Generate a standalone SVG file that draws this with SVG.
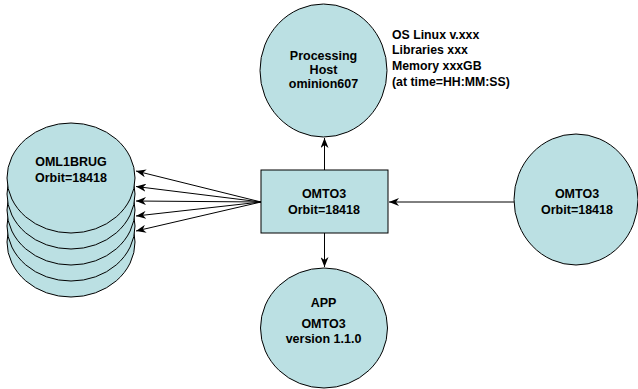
<svg xmlns="http://www.w3.org/2000/svg" width="638" height="389" viewBox="0 0 638 389">
<defs>
<marker id="ah" viewBox="0 0 10 8" refX="10" refY="4" markerWidth="10" markerHeight="8" markerUnits="userSpaceOnUse" orient="auto">
<path d="M0,0 L10,4 L0,8 L3,4 Z" fill="#000"/>
</marker>
</defs>
<style>
.n{fill:#bbe0e3;stroke:#000;stroke-width:1}
.t{font-family:"Liberation Sans",Arial,Helvetica,sans-serif;font-weight:bold;font-size:12.5px;fill:#000;text-anchor:middle}
.i{font-family:"Liberation Sans",Arial,Helvetica,sans-serif;font-weight:bold;font-size:12.3px;fill:#000}
.c{fill:none;stroke:#000;stroke-width:1;marker-end:url(#ah)}
</style>
<rect width="638" height="389" fill="#fff"/>
<g id="stack">
<ellipse class="n" cx="71" cy="242" rx="64" ry="55"/>
<ellipse class="n" cx="71" cy="226" rx="64" ry="55"/>
<ellipse class="n" cx="71" cy="210" rx="64" ry="55"/>
<ellipse class="n" cx="71" cy="194" rx="64" ry="55"/>
<ellipse class="n" cx="71" cy="178" rx="64" ry="55"/>
<text class="t" x="71" y="166">OML1BRUG</text>
<text class="t" x="71" y="182">Orbit=18418</text>
</g>
<g id="host">
<ellipse class="n" cx="323.5" cy="70.5" rx="63.5" ry="66.5"/>
<text class="t" x="323.5" y="60">Processing</text>
<text class="t" x="323.5" y="74">Host</text>
<text class="t" x="323.5" y="88">ominion607</text>
</g>
<g id="info">
<text class="i" x="392" y="39">OS Linux v.xxx</text>
<text class="i" x="392" y="54">Libraries xxx</text>
<text class="i" x="392" y="70">Memory xxxGB</text>
<text class="i" x="392" y="86">(at time=HH:MM:SS)</text>
</g>
<g id="omto3box">
<rect class="n" x="261" y="170" width="127" height="63"/>
<text class="t" x="324" y="198">OMTO3</text>
<text class="t" x="324" y="214">Orbit=18418</text>
</g>
<g id="omto3in">
<ellipse class="n" cx="576" cy="199.5" rx="62" ry="65.5"/>
<text class="t" x="577" y="198">OMTO3</text>
<text class="t" x="577" y="214">Orbit=18418</text>
</g>
<g id="app">
<ellipse class="n" cx="324" cy="328" rx="63.5" ry="60"/>
<text class="t" x="323.5" y="307">APP</text>
<text class="t" x="323.5" y="328">OMTO3</text>
<text class="t" x="323.5" y="343">version 1.1.0</text>
</g>
<g id="connectors">
<line class="c" x1="261" y1="202" x2="136" y2="171"/>
<line class="c" x1="261" y1="202" x2="136" y2="186.5"/>
<line class="c" x1="261" y1="202" x2="136" y2="201"/>
<line class="c" x1="261" y1="202" x2="136" y2="216"/>
<line class="c" x1="261" y1="202" x2="136" y2="231"/>
<line class="c" x1="324.5" y1="170" x2="324.5" y2="138"/>
<line class="c" x1="324.5" y1="233" x2="324.5" y2="267"/>
<line class="c" x1="514" y1="202" x2="389" y2="202"/>
</g>
</svg>
